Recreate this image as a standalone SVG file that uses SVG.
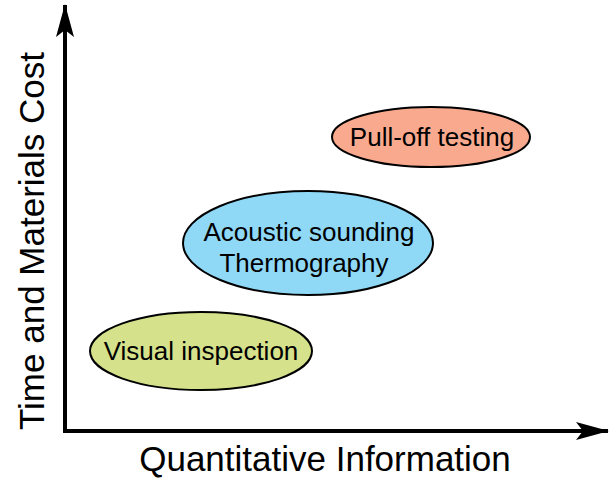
<svg xmlns="http://www.w3.org/2000/svg" width="609" height="479" viewBox="0 0 609 479">
<style>
.lbl{font-family:"Liberation Sans",Arial,sans-serif;font-size:26px;fill:#000;text-anchor:middle}
.ax{font-family:"Liberation Sans",Arial,sans-serif;font-size:35px;fill:#000;text-anchor:middle}
.node ellipse{stroke:#000;stroke-width:2}
.axis{stroke:#000;stroke-width:4;fill:none}
</style>
<defs>
<marker id="arr" viewBox="0 0 33 18" refX="32" refY="9" markerWidth="8.25" markerHeight="4.5" markerUnits="strokeWidth" orient="auto">
<path d="M0,0 L33,9 L0,18 L7,9 Z" fill="#000"/>
</marker>
</defs>
<g id="connectors">
<line class="axis" x1="65" y1="432" x2="65" y2="5" marker-end="url(#arr)"/>
<line class="axis" x1="63" y1="431" x2="608" y2="431" marker-end="url(#arr)"/>
</g>
<g id="node-pulloff" class="node">
<ellipse cx="431" cy="137" rx="99" ry="30" fill="#F9AA8E"/>
<text class="lbl" x="432" y="146">Pull-off testing</text>
</g>
<g id="node-acoustic" class="node">
<ellipse cx="308" cy="243" rx="125" ry="52" fill="#8FD8F6"/>
<text class="lbl" x="309" y="241">Acoustic sounding</text>
<text class="lbl" x="304" y="272">Thermography</text>
</g>
<g id="node-visual" class="node">
<ellipse cx="201" cy="351" rx="111" ry="39" fill="#D5E28B"/>
<text class="lbl" x="201" y="360">Visual inspection</text>
</g>
<text class="ax" transform="translate(44,241) rotate(-90)">Time and Materials Cost</text>
<text class="ax" x="325" y="471">Quantitative Information</text>
</svg>
